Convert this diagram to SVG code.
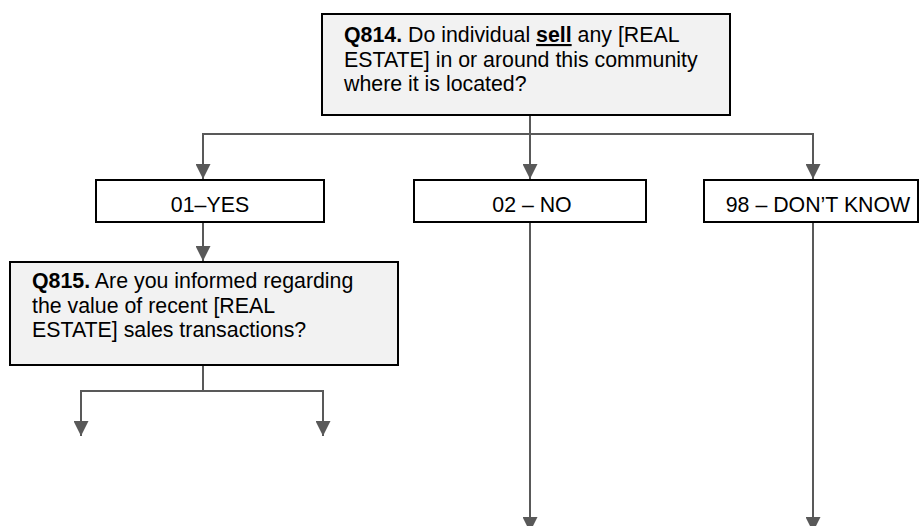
<svg xmlns="http://www.w3.org/2000/svg" width="921" height="526" viewBox="0 0 921 526">
<defs>
<style>
.box{stroke:#000;stroke-width:2}
.q{fill:#f2f2f2}
.a{fill:#fff}
text{font-family:"Liberation Sans",Arial,sans-serif;font-size:21.33px;fill:#000}
.b{font-weight:bold}
.c{text-anchor:middle}
.ln{fill:none;stroke:#595959;stroke-width:2}
</style>
<marker id="ah" markerWidth="15" markerHeight="15" viewBox="0 0 15 15" refX="15" refY="7.5" orient="auto" markerUnits="userSpaceOnUse">
<path d="M0,0 L15,7.5 L0,15 Z" fill="#595959"/>
</marker>
</defs>
<g id="connectors">
<path class="ln" d="M530,115 V134"/>
<path class="ln" d="M203,179 V134 H813 V179" marker-end="url(#ah)"/>
<path class="ln" d="M203,134 V179" marker-end="url(#ah)"/>
<path class="ln" d="M530,134 V179" marker-end="url(#ah)"/>
<path class="ln" d="M203,222 V261" marker-end="url(#ah)"/>
<path class="ln" d="M203,365 V391 H81 V436" marker-end="url(#ah)"/>
<path class="ln" d="M203,391 H323 V436" marker-end="url(#ah)"/>
<path class="ln" d="M530,222 V532" marker-end="url(#ah)"/>
<path class="ln" d="M813,222 V532" marker-end="url(#ah)"/>
</g>
<g id="q814">
<rect class="box q" x="322" y="14" width="408" height="101"/>
<text x="344" y="42"><tspan class="b">Q814.</tspan> Do individual <tspan class="b" text-decoration="underline">sell</tspan> any [REAL</text>
<text x="344" y="66.5">ESTATE] in or around this community</text>
<text x="344" y="91">where it is located?</text>
</g>
<g id="yes">
<rect class="box a" x="96" y="180" width="228" height="42"/>
<text class="c" x="210" y="212">01–YES</text>
</g>
<g id="no">
<rect class="box a" x="414" y="180" width="232" height="42"/>
<text class="c" x="532" y="212">02 – NO</text>
</g>
<g id="dk">
<rect class="box a" x="704" y="180" width="214" height="42"/>
<text class="c" x="818" y="212">98 – DON’T KNOW</text>
</g>
<g id="q815">
<rect class="box q" x="10" y="262" width="388" height="103"/>
<text x="32" y="288"><tspan class="b">Q815.</tspan> Are you informed regarding</text>
<text x="32" y="312.5">the value of recent [REAL</text>
<text x="32" y="337">ESTATE] sales transactions?</text>
</g>
</svg>
